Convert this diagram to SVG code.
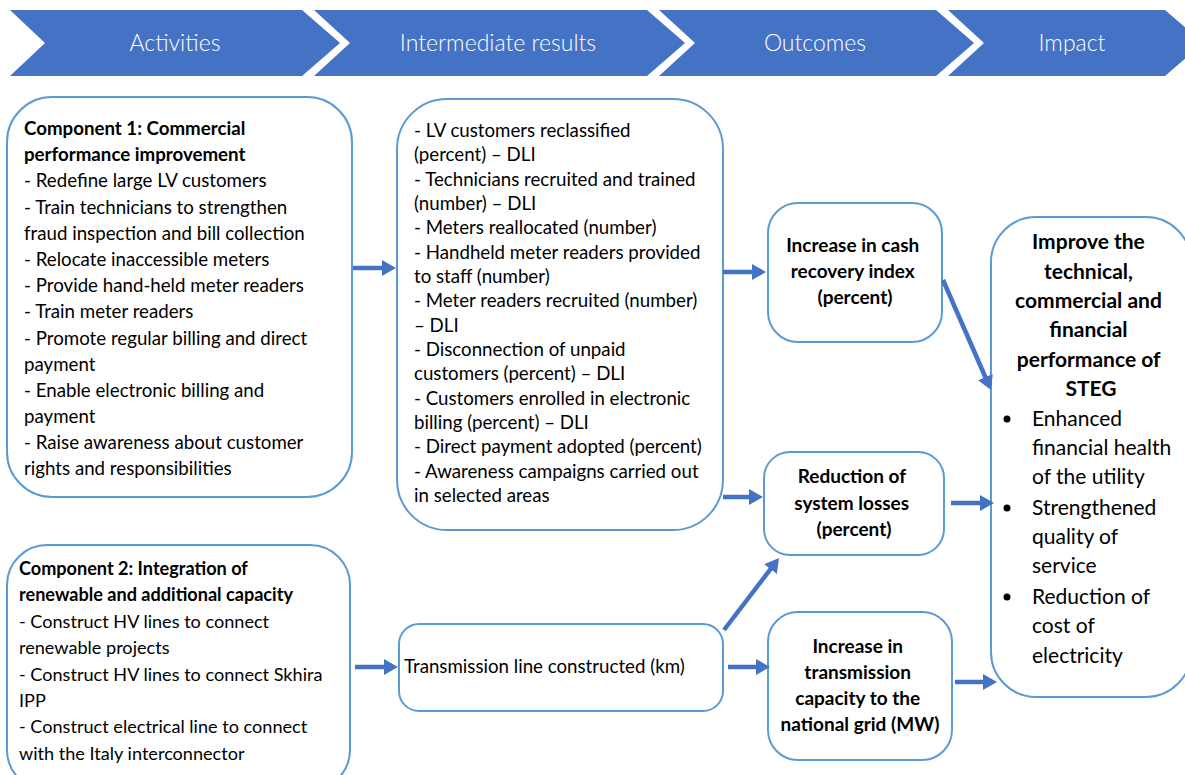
<svg xmlns="http://www.w3.org/2000/svg" width="1185" height="775" viewBox="0 0 1185 775">
<defs>
<style>
.chev{fill:#4472C4}
.ht{font-family:Lato,"Liberation Sans",sans-serif;font-weight:300;font-size:23px;fill:#ffffff;text-anchor:middle}
.box{fill:#ffffff;stroke:#5B9BD5;stroke-width:2}
.t{font-family:Lato,"Liberation Sans",sans-serif;font-size:18.7px;fill:#000000}
.b{font-weight:bold}
.c{text-anchor:middle}
.ob{font-size:19px}
.big{font-size:21px}
.sm{font-size:18.1px}
.arr{stroke:#4472C4;stroke-width:4.5;fill:none;marker-end:url(#ah)}
</style>
<marker id="ah" markerWidth="14" markerHeight="16" refX="2" refY="8" orient="auto" markerUnits="userSpaceOnUse">
<path d="M0,0 L14,8 L0,16 z" fill="#4472C4"/>
</marker>
</defs>
<rect width="1185" height="775" fill="#ffffff"/>
<g id="header">
<polygon class="chev" points="10,10 302,10 340,43 302,76 10,76 45,43"/>
<polygon class="chev" points="314,10 647,10 685,43 647,76 314,76 350,43"/>
<polygon class="chev" points="659,10 936,10 974,43 936,76 659,76 695,43"/>
<polygon class="chev" points="948,10 1165,10 1203,43 1165,76 948,76 984,43"/>
<text class="ht" x="175" y="51">Activities</text>
<text class="ht" x="498" y="51">Intermediate results</text>
<text class="ht" x="815" y="51">Outcomes</text>
<text class="ht" x="1072" y="51">Impact</text>
</g>
<g id="comp1">
<rect class="box" x="7" y="97" width="345" height="400" rx="45"/>
<text class="t" x="24">
<tspan class="b" x="24" y="135">Component 1: Commercial</tspan>
<tspan class="b" x="24" y="161">performance improvement</tspan>
<tspan x="24" y="187">- Redefine large LV customers</tspan>
<tspan x="24" y="213.5">- Train technicians to strengthen</tspan>
<tspan x="24" y="240">fraud inspection and bill collection</tspan>
<tspan x="24" y="266">- Relocate inaccessible meters</tspan>
<tspan x="24" y="292">- Provide hand-held meter readers</tspan>
<tspan x="24" y="318">- Train meter readers</tspan>
<tspan x="24" y="344.5">- Promote regular billing and direct</tspan>
<tspan x="24" y="371">payment</tspan>
<tspan x="24" y="397">- Enable electronic billing and</tspan>
<tspan x="24" y="423">payment</tspan>
<tspan x="24" y="449">- Raise awareness about customer</tspan>
<tspan x="24" y="475">rights and responsibilities</tspan>
</text>
</g>
<g id="intermediate1">
<rect class="box" x="397" y="99" width="326" height="431" rx="50"/>
<text class="t">
<tspan x="414" y="137">- LV customers reclassified</tspan>
<tspan x="414" y="161.3">(percent) – DLI</tspan>
<tspan x="414" y="185.7">- Technicians recruited and trained</tspan>
<tspan x="414" y="210">(number) – DLI</tspan>
<tspan x="414" y="234.3">- Meters reallocated (number)</tspan>
<tspan x="414" y="258.7">- Handheld meter readers provided</tspan>
<tspan x="414" y="283">to staff (number)</tspan>
<tspan x="414" y="307.3">- Meter readers recruited (number)</tspan>
<tspan x="414" y="331.6">– DLI</tspan>
<tspan x="414" y="356">- Disconnection of unpaid</tspan>
<tspan x="414" y="380.3">customers (percent) – DLI</tspan>
<tspan x="414" y="404.6">- Customers enrolled in electronic</tspan>
<tspan x="414" y="429">billing (percent) – DLI</tspan>
<tspan x="414" y="453.3">- Direct payment adopted (percent)</tspan>
<tspan x="414" y="477.6">- Awareness campaigns carried out</tspan>
<tspan x="414" y="502">in selected areas</tspan>
</text>
</g>
<g id="outcome-cash">
<rect class="box" x="768" y="203" width="174" height="139" rx="30"/>
<text class="t b c ob">
<tspan x="855" y="252">Increase in cash</tspan>
<tspan x="855" y="278">recovery index</tspan>
<tspan x="855" y="304">(percent)</tspan>
</text>
</g>
<g id="outcome-losses">
<rect class="box" x="764" y="452" width="180" height="103" rx="26"/>
<text class="t b c ob">
<tspan x="854" y="483">Reduction of</tspan>
<tspan x="854" y="509.5">system losses</tspan>
<tspan x="854" y="536">(percent)</tspan>
</text>
</g>
<g id="outcome-capacity">
<rect class="box" x="768" y="612" width="184" height="148" rx="30"/>
<text class="t b c ob">
<tspan x="860" y="653">Increase in</tspan>
<tspan x="860" y="679">transmission</tspan>
<tspan x="860" y="705">capacity to the</tspan>
<tspan x="860" y="731">national grid (MW)</tspan>
</text>
</g>
<g id="impact">
<rect class="box" x="991" y="217" width="200" height="480" rx="45"/>
<text class="t b c big">
<tspan x="1091" y="249">Improve the</tspan>
<tspan x="1091" y="278.5">technical,</tspan>
<tspan x="1091" y="308">commercial and</tspan>
<tspan x="1091" y="337">financial</tspan>
<tspan x="1091" y="366.5">performance of</tspan>
<tspan x="1091" y="396">STEG</tspan>
</text>
<circle cx="1007" cy="419" r="3.5" fill="#000"/>
<circle cx="1007" cy="508" r="3.5" fill="#000"/>
<circle cx="1007" cy="597" r="3.5" fill="#000"/>
<text class="t big">
<tspan x="1032" y="426">Enhanced</tspan>
<tspan x="1032" y="455">financial health</tspan>
<tspan x="1032" y="484">of the utility</tspan>
<tspan x="1032" y="515">Strengthened</tspan>
<tspan x="1032" y="544">quality of</tspan>
<tspan x="1032" y="573">service</tspan>
<tspan x="1032" y="604">Reduction of</tspan>
<tspan x="1032" y="633">cost of</tspan>
<tspan x="1032" y="663">electricity</tspan>
</text>
</g>
<g id="intermediate2">
<rect class="box" x="399" y="624" width="324" height="87" rx="20"/>
<text class="t" x="404" y="673">Transmission line constructed (km)</text>
</g>
<g id="comp2">
<rect class="box" x="7" y="545" width="343" height="245" rx="40"/>
<text class="t sm">
<tspan class="b" x="19" y="575">Component 2: Integration of</tspan>
<tspan class="b" x="19" y="601.4">renewable and additional capacity</tspan>
<tspan x="19" y="627.8">- Construct HV lines to connect</tspan>
<tspan x="19" y="654.2">renewable projects</tspan>
<tspan x="19" y="680.6">- Construct HV lines to connect Skhira</tspan>
<tspan x="19" y="707">IPP</tspan>
<tspan x="19" y="733.4">- Construct electrical line to connect</tspan>
<tspan x="19" y="759.8">with the Italy interconnector</tspan>
</text>
</g>
<g id="connectors">
<line class="arr" x1="353" y1="268" x2="384" y2="268"/>
<line class="arr" x1="723" y1="272" x2="754" y2="272"/>
<line class="arr" x1="723" y1="497" x2="751" y2="497"/>
<line class="arr" x1="943" y1="280" x2="986.2" y2="379"/>
<line class="arr" x1="951" y1="503" x2="982" y2="503"/>
<line class="arr" x1="955" y1="682" x2="985" y2="682"/>
<line class="arr" x1="355" y1="667" x2="386" y2="667"/>
<line class="arr" x1="724" y1="630" x2="771.7" y2="567.5"/>
<line class="arr" x1="728" y1="667" x2="758" y2="667"/>
</g>
</svg>
